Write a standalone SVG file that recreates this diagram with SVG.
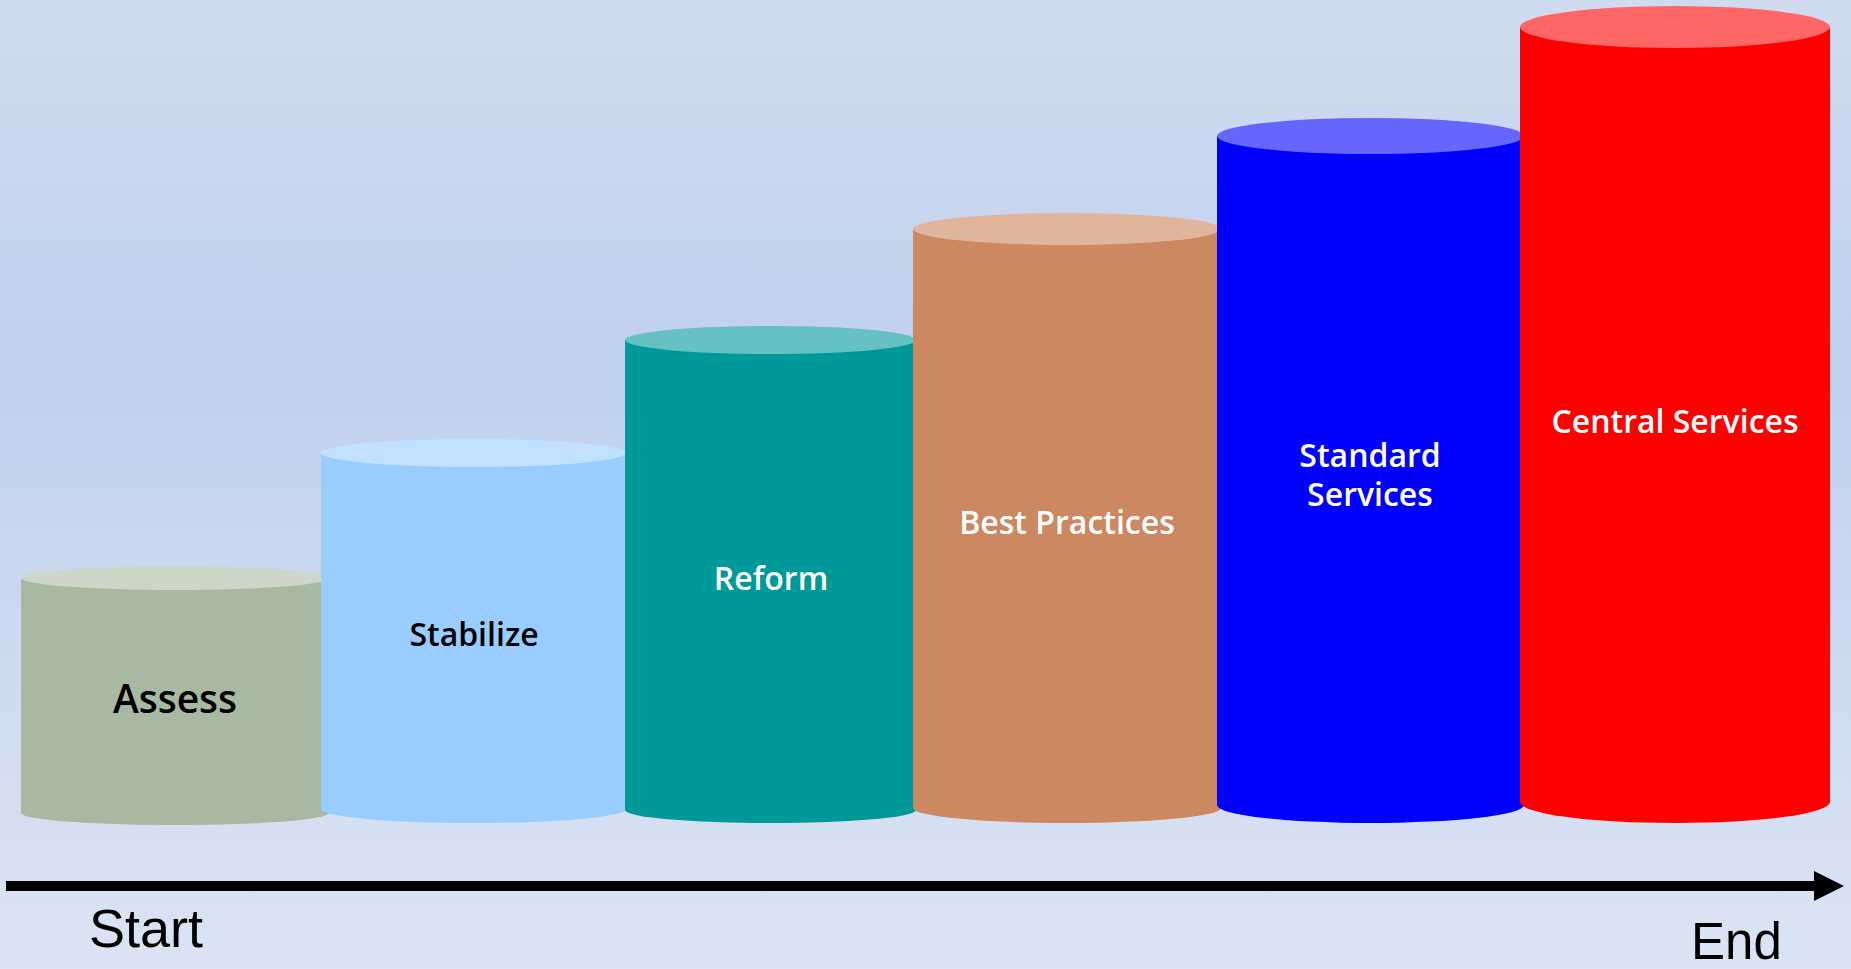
<svg xmlns="http://www.w3.org/2000/svg" width="1851" height="969" viewBox="0 0 1851 969">
  <defs>
    <linearGradient id="bg" x1="0" y1="0" x2="0" y2="1">
      <stop offset="0" stop-color="#cfdcf0"/>
      <stop offset="0.38" stop-color="#c1d1ed"/>
      <stop offset="1" stop-color="#dbe4f4"/>
    </linearGradient>
    <marker id="arrowhead" markerUnits="userSpaceOnUse" markerWidth="30" markerHeight="30" refX="0" refY="15" orient="auto">
      <polygon points="0,0 30,15 0,30" fill="#000"/>
    </marker>
    <style>
      .lbl { font-family: "Open Sans", "Noto Sans", "DejaVu Sans", sans-serif; font-weight: 600; font-size: 32px; text-anchor: middle; }
      .dark { fill: #000; }
      .light { fill: #fff; }
      .axis { font-family: "Liberation Sans", Arial, sans-serif; fill: #000; }
    </style>
  </defs>

  <rect x="0" y="0" width="1851" height="969" fill="url(#bg)"/>

  <g id="assess">
    <path d="M21,578 V813 A154,12 0 0 0 329,813 V578 Z" fill="#a7b9a1"/>
    <ellipse cx="175" cy="578" rx="154" ry="12" fill="#ccd7ca"/>
    <text class="lbl dark" x="175" y="713" style="font-size:39px">Assess</text>
  </g>

  <g id="stabilize">
    <path d="M321,453 V809 A152.5,14 0 0 0 626,809 V453 Z" fill="#99ccff"/>
    <ellipse cx="473.5" cy="453" rx="152.5" ry="14" fill="#c2e0ff"/>
    <text class="lbl dark" x="474" y="646">Stabilize</text>
  </g>

  <g id="reform">
    <path d="M625,340 V810 A145.5,13 0 0 0 916,810 V340 Z" fill="#009999"/>
    <ellipse cx="770.5" cy="340" rx="145.5" ry="14" fill="#66c2c2"/>
    <text class="lbl light" x="771" y="590">Reform</text>
  </g>

  <g id="best-practices">
    <path d="M913,229 V808 A154,15 0 0 0 1221,808 V229 Z" fill="#cc8860"/>
    <ellipse cx="1067" cy="229" rx="154" ry="16" fill="#e1b59b"/>
    <text class="lbl light" x="1067" y="534">Best Practices</text>
  </g>

  <g id="standard-services">
    <path d="M1217,136 V805 A153.5,18 0 0 0 1524,805 V136 Z" fill="#0000ff"/>
    <ellipse cx="1370.5" cy="136" rx="153.5" ry="18" fill="#6666ff"/>
    <text class="lbl light" x="1370" y="467">Standard</text>
    <text class="lbl light" x="1370" y="506">Services</text>
  </g>

  <g id="central-services">
    <path d="M1520,27 V802 A155,21 0 0 0 1830,802 V27 Z" fill="#ff0000"/>
    <ellipse cx="1675" cy="27" rx="155" ry="21" fill="#ff6666"/>
    <text class="lbl light" x="1675" y="433">Central Services</text>
  </g>

  <g id="connectors">
    <line x1="6" y1="886" x2="1814" y2="886" stroke="#000" stroke-width="10" marker-end="url(#arrowhead)"/>
  </g>

  <g id="axis-labels">
    <text class="axis" x="89" y="947" font-size="54">Start</text>
    <text class="axis" x="1691" y="959" font-size="51">End</text>
  </g>
</svg>
